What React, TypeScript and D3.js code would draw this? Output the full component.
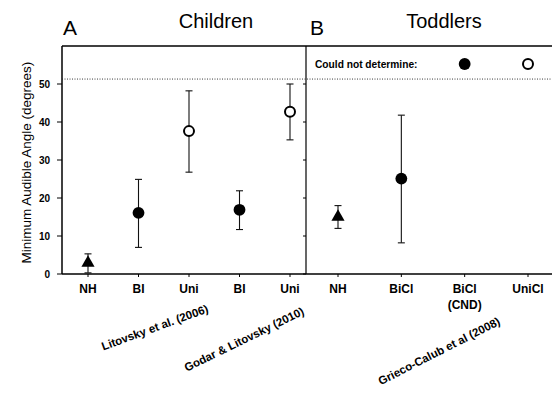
import React from "react";
import * as d3 from "d3";

// panel A: children
const childCats = ["NH", "BI", "Uni", "BI", "Uni"];
const childMean = [3.2, 16.1, 37.6, 16.9, 42.7];
const childLow = [0.3, 7.0, 26.8, 11.7, 35.3];
const childHigh = [5.3, 24.9, 48.2, 21.9, 50.0];
const childShape = ["triangle", "filled", "open", "filled", "open"];

// panel B: toddlers
const todCats = ["NH", "BiCl", "BiCl", "UniCl"];
const todSub = ["", "", "(CND)", ""];
const todMean = [15.3, 25.1];
const todLow = [12.0, 8.2];
const todHigh = [18.0, 41.8];
const todShape = ["triangle", "filled"];

const yTicks = [0, 10, 20, 30, 40, 50];
const cndLevel = 51.3;
const yTop = 60;

// study labels, anchored at their right end
const studies = [
  { label: "Litovsky et al. (2006)", endX: 209, endY: 312, angle: -20 },
  { label: "Godar & Litovsky (2010)", endX: 305, endY: 314, angle: -26 },
  { label: "Grieco-Calub et al (2008)", endX: 501, endY: 324, angle: -27 },
];

const W = 552;
const H = 394;
const left = 62;
const divider = 306;
const right = 552;
const font = "Arial, 'Liberation Sans', sans-serif";

function Marker({ shape, x, y }: { shape: string; x: number; y: number }) {
  if (shape === "triangle") {
    const tri = d3.symbol(d3.symbolTriangle, 75)();
    return <path d={tri || ""} transform={`translate(${x},${y + 1})`} fill="#000" />;
  }
  if (shape === "open") {
    return <circle cx={x} cy={y} r={5} fill="#fff" stroke="#000" strokeWidth={2} />;
  }
  return <circle cx={x} cy={y} r={5.9} fill="#000" />;
}

export default function App() {
  const y = d3.scaleLinear().domain([0, yTop]).range([274, 46]);
  const xA = d3.scaleLinear().domain([0, 4]).range([88, 290]);
  const xB = d3.scaleLinear().domain([0, 3]).range([338, 528]);

  const errBar = (x: number, lo: number, hi: number, key: string) => (
    <g key={key} stroke="#111" strokeWidth={1.1}>
      <line x1={x} x2={x} y1={y(lo)} y2={y(hi)} />
      <line x1={x - 3.5} x2={x + 3.5} y1={y(lo)} y2={y(lo)} />
      <line x1={x - 3.5} x2={x + 3.5} y1={y(hi)} y2={y(hi)} />
    </g>
  );

  return (
    <svg
      width={W}
      height={H}
      style={{ position: "absolute", left: 0, top: 0, background: "#fff" }}
      fontFamily={font}
    >
      {/* frame */}
      <line x1={left} x2={right} y1={y(yTop)} y2={y(yTop)} stroke="#000" strokeWidth={1.3} />
      <line x1={left} x2={right} y1={y(0)} y2={y(0)} stroke="#000" strokeWidth={1.3} />
      <line x1={left} x2={left} y1={y(yTop)} y2={y(0)} stroke="#000" strokeWidth={1.5} />
      <line x1={divider} x2={divider} y1={y(yTop)} y2={y(0)} stroke="#000" strokeWidth={1.2} />
      <line
        x1={left}
        x2={right}
        y1={y(cndLevel)}
        y2={y(cndLevel)}
        stroke="#222"
        strokeWidth={0.9}
        strokeDasharray="1 1.5"
      />

      {/* y ticks */}
      {yTicks.map((t) => (
        <g key={t}>
          <line x1={left - 5} x2={left} y1={y(t)} y2={y(t)} stroke="#000" />
          <line x1={divider - 3} x2={divider} y1={y(t)} y2={y(t)} stroke="#000" />
          <text
            x={left - 12}
            y={y(t)}
            dy="0.35em"
            textAnchor="end"
            fontSize={10}
            fontWeight="bold"
          >
            {t}
          </text>
        </g>
      ))}
      <text
        transform={`translate(31,${y(29.3)}) rotate(-90)`}
        textAnchor="middle"
        fontSize={13.5}
      >
        Minimum Audible Angle (degrees)
      </text>

      {/* panel titles */}
      <text x={63} y={35} fontSize={21}>A</text>
      <text x={216} y={28} fontSize={20} textAnchor="middle">Children</text>
      <text x={310} y={35} fontSize={21}>B</text>
      <text x={444} y={28} fontSize={20} textAnchor="middle">Toddlers</text>

      {/* x categories */}
      {childCats.map((c, i) => (
        <g key={"ca" + i}>
          <line x1={xA(i)} x2={xA(i)} y1={y(0)} y2={y(0) + 3} stroke="#000" />
          <text x={xA(i)} y={293} textAnchor="middle" fontSize={12} fontWeight="bold">
            {c}
          </text>
        </g>
      ))}
      {todCats.map((c, i) => (
        <g key={"cb" + i}>
          <line x1={xB(i)} x2={xB(i)} y1={y(0)} y2={y(0) + 3} stroke="#000" />
          <text x={xB(i)} y={293} textAnchor="middle" fontSize={12} fontWeight="bold">
            {c}
          </text>
          {todSub[i] && (
            <text x={xB(i)} y={309} textAnchor="middle" fontSize={12} fontWeight="bold">
              {todSub[i]}
            </text>
          )}
        </g>
      ))}

      {/* study labels */}
      {studies.map((s) => (
        <text
          key={s.label}
          transform={`translate(${s.endX},${s.endY}) rotate(${s.angle})`}
          textAnchor="end"
          fontSize={11.5}
          fontWeight="bold"
        >
          {s.label}
        </text>
      ))}

      {/* legend */}
      <text x={315} y={68} fontSize={10.2} fontWeight="bold">Could not determine:</text>
      <Marker shape="filled" x={xB(2)} y={64} />
      <Marker shape="open" x={xB(3)} y={64} />

      {/* data */}
      {childMean.map((m, i) => (
        <g key={"da" + i}>
          {errBar(xA(i), childLow[i], childHigh[i], "ea" + i)}
          <Marker shape={childShape[i]} x={xA(i)} y={y(m)} />
        </g>
      ))}
      {todMean.map((m, i) => (
        <g key={"db" + i}>
          {errBar(xB(i), todLow[i], todHigh[i], "eb" + i)}
          <Marker shape={todShape[i]} x={xB(i)} y={y(m)} />
        </g>
      ))}
    </svg>
  );
}
